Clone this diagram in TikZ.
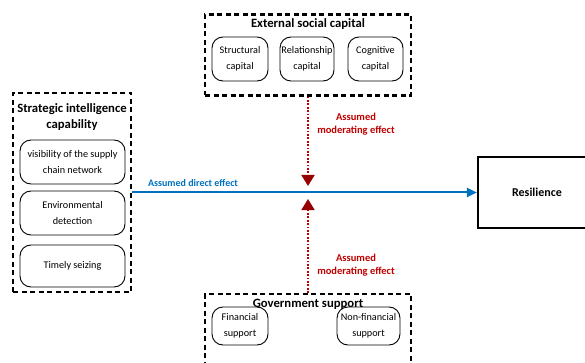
\documentclass[tikz,border=0pt]{standalone}
\usepackage{fontspec}
\setmainfont{Carlito}
\usetikzlibrary{arrows.meta}
\definecolor{dblue}{RGB}{0,112,192}
\definecolor{dred}{RGB}{192,0,0}
\definecolor{dred2}{RGB}{150,0,0}
\begin{document}
\begin{tikzpicture}[x=1pt,y=-1pt,
  outerbox/.style={draw, line width=2.2pt, dash pattern=on 5pt off 3.5pt, inner sep=0pt},
  innerbox/.style={draw, line width=0.9pt, rounded corners=11pt, inner sep=0pt, align=center,
    font=\fontsize{10.2}{16.5}\selectfont},
  title/.style={font=\fontsize{12.7}{16.5}\selectfont\bfseries, align=center, inner sep=0pt},
  redlabel/.style={font=\fontsize{10.5}{12.5}\selectfont\bfseries, text=dred, align=center, inner sep=0pt},
  redarrow/.style={dred, line width=1.8pt, dash pattern=on 1.8pt off 1.6pt,
    -{Triangle[width=13pt,length=11pt,fill=dred2,color=dred2]}},
  bluearrow/.style={dblue, line width=2pt, -{Triangle[width=9pt,length=10pt]}}
]
\useasboundingbox (0,0) rectangle (585,363);
\begin{scope}
\clip (0,0) rectangle (585,363);
% left box
\node[outerbox, minimum width=118pt, minimum height=199pt] (sic) at (72,192.5) {};
\node[title] (sict) at (72,117) {Strategic intelligence\\capability};
\node[innerbox, minimum width=105pt, minimum height=44pt] (v) at (72.5,162) {visibility of the supply\\chain network};
\node[innerbox, minimum width=105pt, minimum height=44pt] (e) at (72.5,213) {Environmental\\detection};
\node[innerbox, minimum width=105pt, minimum height=42pt] (t) at (72.5,266) {Timely seizing};
% top box
\node[outerbox, minimum width=206pt, minimum height=81pt] (esc) at (308,55) {};
\node[title] (esct) at (308,24) {External social capital};
\node[innerbox, minimum width=56pt, minimum height=44pt] (s) at (240,59) {Structural\\capital};
\node[innerbox, minimum width=54pt, minimum height=44pt] (r) at (307,59) {Relationship\\capital};
\node[innerbox, minimum width=55pt, minimum height=44pt] (c) at (375.5,59) {Cognitive\\capital};
% bottom box
\node[outerbox, minimum width=206pt, minimum height=90pt] (gs) at (308,339) {};
\node[title] (gst) at (308,304) {Government support};
\node[innerbox, minimum width=56pt, minimum height=38pt] (f) at (240,326) {Financial\\support};
\node[innerbox, minimum width=63pt, minimum height=38pt] (nf) at (368.5,326) {Non-financial\\support};
% resilience
\node[draw, line width=2.2pt, minimum width=118pt, minimum height=71pt,
  font=\fontsize{12}{14}\selectfont\bfseries] (res) at (537,192.5) {Resilience};
\end{scope}
% arrows
\draw[bluearrow] (sic.east) -- (res.west);
\node[font=\fontsize{10}{12}\selectfont\bfseries, text=dblue, inner sep=0pt] (dl) at (193,183) {Assumed direct effect};
\coordinate (mt) at (308,186);
\coordinate (mb) at (308,199);
\draw[redarrow] (esc.south) -- (mt);
\draw[redarrow] (gs.north) -- (mb);
\node[redlabel] (ml1) at (356,124) {Assumed\\moderating effect};
\node[redlabel] (ml2) at (356,265) {Assumed\\moderating effect};
\end{tikzpicture}
\end{document}
